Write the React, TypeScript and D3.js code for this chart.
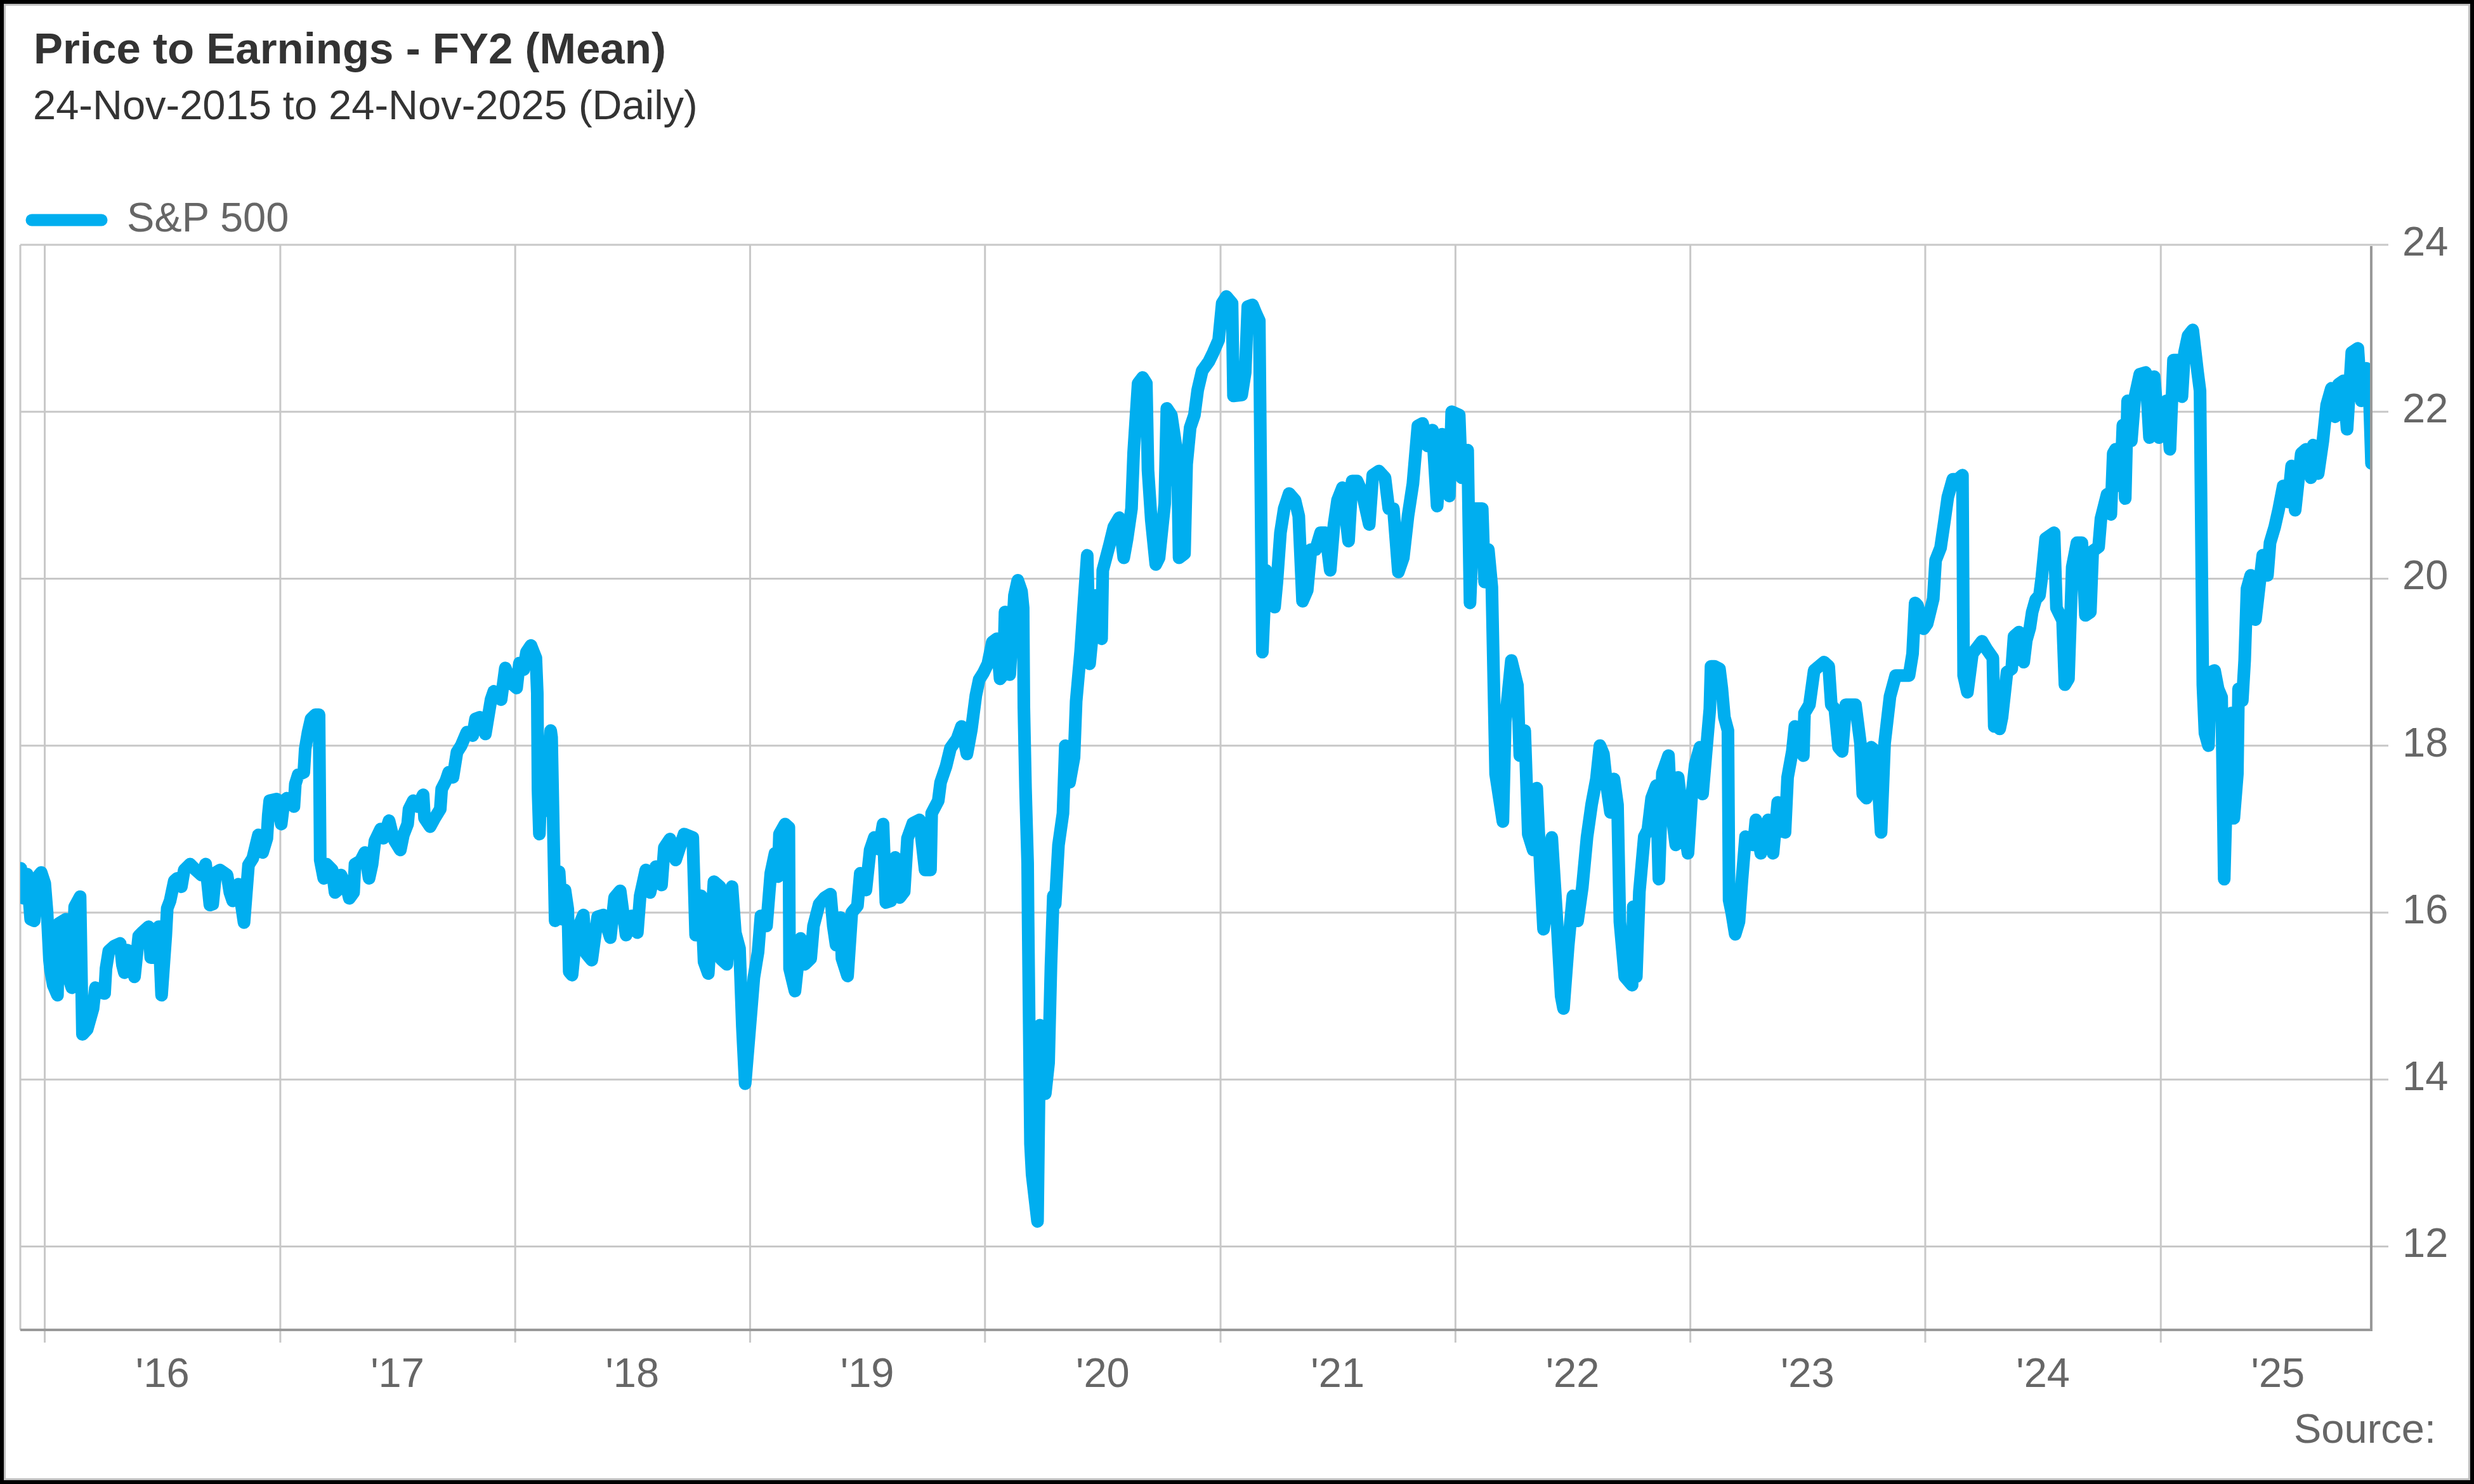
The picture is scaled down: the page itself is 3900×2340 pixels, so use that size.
import React from 'react';
import * as d3 from 'd3';

// ---------- text ----------
const TITLE = 'Price to Earnings - FY2 (Mean)';
const SUBTITLE = '24-Nov-2015 to 24-Nov-2025 (Daily)';
const SERIES_NAME = 'S&P 500';
const SOURCE = 'Source:';

// ---------- axes ----------
const START_DATE = new Date(Date.UTC(2015, 10, 24));
const END_DATE = new Date(Date.UTC(2025, 10, 24));
const Y_MIN = 11;
const Y_MAX = 24;
const Y_TICKS = [12, 14, 16, 18, 20, 22, 24];
const YEARS = [2016, 2017, 2018, 2019, 2020, 2021, 2022, 2023, 2024, 2025];
const YEAR_LABELS = ["'16", "'17", "'18", "'19", "'20", "'21", "'22", "'23", "'24", "'25"];

// ---------- data: [decimal year, P/E] ----------
const pe2016: [number, number][] = [
  [2015.898, 16.53], [2015.91, 16.17], [2015.925, 16.46], [2015.94, 15.92], [2015.955, 15.9],
  [2015.97, 16.43], [2015.985, 16.48], [2016.0, 16.35], [2016.01, 16.0], [2016.02, 15.43],
  [2016.025, 15.3], [2016.036, 15.13], [2016.054, 15.01], [2016.06, 15.87], [2016.09, 15.92],
  [2016.1, 15.23], [2016.115, 15.1], [2016.127, 16.07], [2016.15, 16.19], [2016.16, 14.54],
  [2016.18, 14.6], [2016.205, 14.85], [2016.215, 15.1], [2016.23, 15.05], [2016.254, 15.03],
  [2016.26, 15.33], [2016.272, 15.54], [2016.296, 15.6], [2016.32, 15.63], [2016.33, 15.37],
  [2016.338, 15.28], [2016.35, 15.55], [2016.363, 15.53], [2016.381, 15.23], [2016.399, 15.72],
  [2016.417, 15.77], [2016.441, 15.83], [2016.45, 15.46], [2016.472, 15.46], [2016.484, 15.83],
  [2016.496, 15.01], [2016.514, 15.73], [2016.52, 16.05], [2016.532, 16.14], [2016.55, 16.38],
  [2016.562, 16.41], [2016.58, 16.31], [2016.592, 16.51], [2016.617, 16.58], [2016.641, 16.51],
  [2016.665, 16.45], [2016.683, 16.58], [2016.701, 16.09], [2016.713, 16.1], [2016.726, 16.48],
  [2016.744, 16.51], [2016.774, 16.45], [2016.786, 16.24], [2016.798, 16.14], [2016.822, 16.34],
  [2016.846, 15.88], [2016.865, 16.57], [2016.883, 16.65], [2016.895, 16.79], [2016.907, 16.93],
  [2016.925, 16.72], [2016.943, 16.89], [2016.949, 17.17], [2016.955, 17.34], [2016.985, 17.36],
  [2017.004, 17.06], [2017.016, 17.34], [2017.028, 17.37], [2017.058, 17.27], [2017.064, 17.54],
  [2017.076, 17.65], [2017.1, 17.68], [2017.106, 17.96], [2017.118, 18.16], [2017.131, 18.32],
  [2017.149, 18.37], [2017.165, 18.37], [2017.17, 16.63], [2017.185, 16.41], [2017.197, 16.58],
  [2017.221, 16.51], [2017.233, 16.24], [2017.245, 16.27], [2017.258, 16.45], [2017.282, 16.31],
  [2017.294, 16.17], [2017.312, 16.24], [2017.318, 16.58], [2017.342, 16.62], [2017.36, 16.72],
  [2017.378, 16.41], [2017.391, 16.58], [2017.403, 16.86], [2017.427, 17.0], [2017.439, 16.89],
  [2017.463, 17.1], [2017.475, 16.96], [2017.487, 16.86], [2017.511, 16.75], [2017.524, 16.93],
  [2017.542, 17.06], [2017.548, 17.24], [2017.566, 17.34], [2017.584, 17.27], [2017.608, 17.41],
  [2017.614, 17.13], [2017.638, 17.03], [2017.657, 17.13], [2017.681, 17.24], [2017.687, 17.48],
  [2017.705, 17.58], [2017.717, 17.68], [2017.735, 17.62],
];

const pe2018: [number, number][] = [
  [2017.752, 17.92], [2017.77, 18.0], [2017.794, 18.16], [2017.819, 18.12], [2017.831, 18.32],
  [2017.849, 18.34], [2017.873, 18.14], [2017.897, 18.55], [2017.909, 18.65], [2017.94, 18.55],
  [2017.958, 18.93], [2017.982, 18.75], [2018.006, 18.69], [2018.018, 18.99], [2018.036, 18.91],
  [2018.048, 19.12], [2018.067, 19.2], [2018.088, 19.05], [2018.094, 18.63], [2018.097, 17.47],
  [2018.103, 16.94], [2018.115, 17.92], [2018.127, 17.22], [2018.151, 18.18], [2018.155, 18.1],
  [2018.17, 15.9], [2018.187, 16.49], [2018.2, 15.92], [2018.212, 16.27], [2018.224, 16.04],
  [2018.23, 15.29], [2018.242, 15.25], [2018.26, 15.76], [2018.29, 15.97], [2018.302, 15.51],
  [2018.326, 15.43], [2018.351, 15.95], [2018.375, 15.97], [2018.405, 15.7], [2018.423, 16.18],
  [2018.447, 16.26], [2018.472, 15.73], [2018.496, 15.96], [2018.52, 15.76], [2018.532, 16.2],
  [2018.556, 16.51], [2018.574, 16.24], [2018.599, 16.55], [2018.623, 16.33], [2018.635, 16.78],
  [2018.659, 16.88], [2018.683, 16.63], [2018.719, 16.94], [2018.756, 16.9], [2018.768, 15.73],
  [2018.792, 16.2], [2018.804, 15.41], [2018.822, 15.27], [2018.846, 16.37], [2018.871, 16.31],
  [2018.877, 15.44], [2018.901, 15.38], [2018.923, 16.31], [2018.937, 15.76], [2018.955, 15.57],
  [2018.967, 14.63], [2018.979, 13.95], [2018.998, 14.6], [2019.016, 15.22], [2019.034, 15.53],
  [2019.046, 15.96], [2019.07, 15.84], [2019.088, 16.47], [2019.106, 16.71], [2019.119, 16.43],
  [2019.125, 16.94], [2019.149, 17.06], [2019.165, 17.02], [2019.168, 15.33], [2019.191, 15.06],
  [2019.215, 15.69], [2019.233, 15.38], [2019.258, 15.45], [2019.27, 15.84], [2019.294, 16.1],
  [2019.318, 16.18], [2019.342, 16.22], [2019.354, 15.84], [2019.366, 15.61], [2019.385, 15.94],
  [2019.391, 15.45], [2019.415, 15.24], [2019.433, 16.0], [2019.457, 16.08], [2019.469, 16.47],
  [2019.493, 16.27], [2019.511, 16.75], [2019.529, 16.9], [2019.548, 16.76], [2019.566, 17.06],
  [2019.578, 16.12],
];

const pe2020: [number, number][] = [
  [2019.599, 16.14], [2019.618, 16.66], [2019.637, 16.18], [2019.656, 16.25], [2019.67, 16.89],
  [2019.693, 17.07], [2019.721, 17.11], [2019.745, 16.51], [2019.768, 16.51], [2019.773, 17.19],
  [2019.801, 17.34], [2019.811, 17.56], [2019.834, 17.75], [2019.853, 17.97], [2019.881, 18.08],
  [2019.9, 18.23], [2019.923, 17.9], [2019.942, 18.19], [2019.961, 18.6], [2019.975, 18.79],
  [2019.993, 18.87], [2020.012, 18.98], [2020.031, 19.24], [2020.05, 19.28], [2020.064, 18.8],
  [2020.078, 18.85], [2020.085, 19.6], [2020.095, 19.5], [2020.105, 18.85], [2020.115, 19.3],
  [2020.125, 19.8], [2020.139, 19.98], [2020.155, 19.85], [2020.162, 19.65], [2020.165, 18.46],
  [2020.172, 17.49], [2020.181, 16.59], [2020.183, 15.92], [2020.188, 14.57], [2020.193, 13.23],
  [2020.2, 12.86], [2020.223, 12.3], [2020.233, 14.65], [2020.256, 13.83], [2020.27, 14.2],
  [2020.28, 15.36], [2020.29, 16.2], [2020.298, 16.1], [2020.312, 16.81], [2020.331, 17.19],
  [2020.341, 18.0], [2020.359, 17.56], [2020.378, 17.86], [2020.387, 18.53], [2020.406, 19.13],
  [2020.42, 19.72], [2020.434, 20.28], [2020.444, 18.98], [2020.472, 19.8], [2020.495, 19.28],
  [2020.5, 20.1], [2020.528, 20.4], [2020.547, 20.62], [2020.57, 20.73], [2020.589, 20.25],
  [2020.603, 20.47], [2020.622, 20.84], [2020.631, 21.51], [2020.65, 22.34], [2020.669, 22.41],
  [2020.685, 22.34], [2020.692, 21.3], [2020.706, 20.7], [2020.725, 20.17], [2020.739, 20.25],
  [2020.763, 20.9], [2020.772, 22.04], [2020.791, 21.96], [2020.81, 21.6], [2020.819, 21.1],
  [2020.824, 20.25], [2020.847, 20.3], [2020.856, 21.37], [2020.871, 21.81], [2020.889, 21.96],
  [2020.903, 22.26], [2020.922, 22.49], [2020.95, 22.6], [2020.969, 22.71], [2020.992, 22.86],
  [2021.007, 23.3], [2021.025, 23.38], [2021.049, 23.3],
];

const pe2021: [number, number][] = [
  [2021.055, 22.19], [2021.09, 22.2], [2021.105, 22.47], [2021.116, 23.26], [2021.136, 23.28],
  [2021.152, 23.17], [2021.165, 23.09], [2021.178, 19.12], [2021.193, 20.1], [2021.23, 19.66],
  [2021.24, 19.96], [2021.255, 20.55], [2021.271, 20.84], [2021.292, 21.02], [2021.317, 20.94],
  [2021.333, 20.75], [2021.349, 19.73], [2021.369, 19.86], [2021.385, 20.35], [2021.405, 20.35],
  [2021.426, 20.55], [2021.447, 20.55], [2021.467, 20.1], [2021.483, 20.65], [2021.498, 20.94],
  [2021.519, 21.09], [2021.545, 20.45], [2021.56, 21.17], [2021.581, 21.17], [2021.602, 21.04],
  [2021.633, 20.65], [2021.648, 21.24], [2021.674, 21.29], [2021.7, 21.21], [2021.716, 20.84],
  [2021.736, 20.84], [2021.757, 20.08], [2021.778, 20.25], [2021.798, 20.75], [2021.819, 21.14],
  [2021.84, 21.83], [2021.86, 21.86], [2021.881, 21.59], [2021.902, 21.78], [2021.922, 20.87],
  [2021.943, 21.73], [2021.974, 20.99], [2021.984, 22.0], [2022.016, 21.96], [2022.026, 21.21],
  [2022.052, 21.54], [2022.062, 19.71], [2022.078, 20.84], [2022.114, 20.84], [2022.124, 19.96],
  [2022.14, 20.35], [2022.155, 19.9], [2022.171, 17.66], [2022.202, 17.09], [2022.212, 18.28],
  [2022.238, 19.02], [2022.264, 18.72], [2022.274, 17.88], [2022.295, 18.18], [2022.31, 16.94],
  [2022.331, 16.75], [2022.346, 17.49], [2022.362, 16.5],
];

const pe2022: [number, number][] = [
  [2022.375, 15.8], [2022.39, 16.1], [2022.41, 16.9], [2022.43, 16.0], [2022.45, 15.0],
  [2022.46, 14.85], [2022.48, 15.6], [2022.5, 16.2], [2022.52, 15.9], [2022.54, 16.3],
  [2022.56, 16.9], [2022.58, 17.3], [2022.6, 17.6], [2022.615, 18.0], [2022.63, 17.9],
  [2022.645, 17.5], [2022.66, 17.2], [2022.675, 17.6], [2022.69, 17.29], [2022.7, 15.89],
  [2022.721, 15.23], [2022.752, 15.13], [2022.757, 16.07], [2022.77, 15.23], [2022.783, 16.25],
  [2022.804, 16.91], [2022.819, 16.99], [2022.835, 17.37], [2022.855, 17.52], [2022.866, 16.4],
  [2022.881, 17.67], [2022.907, 17.88], [2022.917, 17.27], [2022.938, 16.81], [2022.948, 17.62],
  [2022.969, 17.11], [2022.99, 16.71],
];

const pe2023: [number, number][] = [
  [2023.005, 17.37], [2023.021, 17.78], [2023.041, 17.98], [2023.052, 17.42], [2023.072, 18.08],
  [2023.083, 18.44], [2023.088, 18.95], [2023.103, 18.95], [2023.124, 18.92], [2023.134, 18.69],
  [2023.145, 18.34], [2023.16, 18.18], [2023.165, 16.15], [2023.176, 16.0], [2023.191, 15.74],
  [2023.207, 15.89], [2023.22, 16.4], [2023.235, 16.91], [2023.269, 16.81], [2023.279, 17.11],
  [2023.3, 16.71], [2023.331, 17.11], [2023.352, 16.71], [2023.372, 17.32], [2023.403, 16.96],
  [2023.414, 17.62], [2023.434, 17.93], [2023.445, 18.23], [2023.481, 17.88], [2023.486, 18.39],
  [2023.507, 18.49], [2023.527, 18.9], [2023.548, 18.95], [2023.569, 19.0], [2023.589, 18.95],
  [2023.6, 18.49], [2023.615, 18.44], [2023.631, 17.98], [2023.646, 17.93], [2023.662, 18.49],
  [2023.703, 18.49], [2023.724, 18.03], [2023.734, 17.42], [2023.75, 17.37], [2023.77, 17.98],
  [2023.791, 17.93], [2023.812, 16.96], [2023.827, 18.03], [2023.85, 18.59], [2023.874, 18.84],
  [2023.905, 18.84], [2023.931, 18.84], [2023.946, 19.1], [2023.957, 19.71], [2023.967, 19.68],
  [2023.993, 19.4],
];

const pe2024: [number, number][] = [
  [2024.008, 19.46], [2024.034, 19.76], [2024.044, 20.22], [2024.065, 20.37], [2024.081, 20.68],
  [2024.096, 20.98], [2024.117, 21.19], [2024.138, 21.19], [2024.158, 21.24], [2024.163, 18.84],
  [2024.179, 18.64], [2024.2, 19.1], [2024.241, 19.25], [2024.262, 19.15], [2024.287, 19.05],
  [2024.293, 18.23], [2024.308, 18.64], [2024.316, 18.2], [2024.326, 18.34], [2024.347, 18.88],
  [2024.367, 18.92], [2024.377, 19.31], [2024.398, 19.36], [2024.418, 19.0], [2024.429, 19.26],
  [2024.444, 19.41], [2024.454, 19.6], [2024.469, 19.75], [2024.485, 19.8], [2024.495, 20.02],
  [2024.511, 20.48], [2024.547, 20.55], [2024.557, 19.65], [2024.583, 19.5], [2024.593, 18.73],
  [2024.608, 18.8], [2024.624, 20.14], [2024.644, 20.43], [2024.665, 20.43], [2024.68, 19.56],
  [2024.701, 19.6], [2024.711, 20.33], [2024.736, 20.38], [2024.746, 20.72], [2024.772, 21.01],
  [2024.788, 20.77], [2024.798, 21.5], [2024.808, 21.55], [2024.829, 21.11], [2024.839, 21.84],
  [2024.849, 20.96], [2024.859, 22.13], [2024.875, 21.65], [2024.89, 22.18], [2024.911, 22.45],
  [2024.936, 22.47], [2024.952, 21.69], [2024.972, 22.42], [2024.993, 21.69],
];

const pe2025: [number, number][] = [
  [2025.024, 22.13], [2025.039, 21.55], [2025.054, 22.62], [2025.08, 22.62], [2025.09, 22.18],
  [2025.101, 22.71], [2025.116, 22.91], [2025.136, 22.98], [2025.157, 22.47], [2025.167, 22.25],
  [2025.179, 18.73], [2025.188, 18.15], [2025.203, 18.0], [2025.213, 18.88], [2025.229, 18.9],
  [2025.244, 18.68], [2025.259, 18.58], [2025.27, 16.4], [2025.285, 18.0], [2025.301, 18.39],
  [2025.311, 17.13], [2025.326, 17.66], [2025.331, 18.68], [2025.347, 18.54], [2025.357, 19.02],
  [2025.367, 19.88], [2025.383, 20.04], [2025.403, 19.51], [2025.418, 19.88], [2025.434, 20.28],
  [2025.454, 20.04], [2025.465, 20.43], [2025.485, 20.62], [2025.501, 20.82], [2025.521, 21.11],
  [2025.542, 20.92], [2025.557, 21.35], [2025.572, 20.82], [2025.598, 21.5], [2025.618, 21.55],
  [2025.639, 21.21], [2025.649, 21.6], [2025.67, 21.26], [2025.69, 21.65], [2025.706, 22.08],
  [2025.726, 22.28], [2025.742, 21.94], [2025.757, 22.33], [2025.777, 22.37], [2025.793, 21.79],
  [2025.813, 22.71], [2025.839, 22.76], [2025.854, 22.13], [2025.875, 22.52], [2025.885, 22.45],
  [2025.897, 21.38],
];

// ---------- helpers ----------
const decToDate = (d: number) => {
  const y = Math.floor(d);
  const s = Date.UTC(y, 0, 1);
  const e = Date.UTC(y + 1, 0, 1);
  return new Date(s + (d - y) * (e - s));
};

const SERIES = [pe2016, pe2018, pe2020, pe2021, pe2022, pe2023, pe2024, pe2025]
  .flat()
  .map(([d, v]) => ({ date: decToDate(d), value: v }));

// ---------- layout ----------
const W = 3900;
const H = 2340;
const PL = 32;
const PR = 3738;
const PT = 386;
const PB = 2097;
const FONT = "'Liberation Sans', Arial, Helvetica, sans-serif";
const LINE_COLOR = '#00AEEF';
const GRID = '#c8c8c8';
const AXIS = '#999999';
const LABEL = '#666666';

export default function App() {
  const x = d3.scaleUtc().domain([START_DATE, END_DATE]).range([PL, PR]);
  const y = d3.scaleLinear().domain([Y_MIN, Y_MAX]).range([PB, PT]);
  const line = d3
    .line<{ date: Date; value: number }>()
    .x((d) => x(d.date))
    .y((d) => y(d.value));

  return (
    <svg
      width={W}
      height={H}
      viewBox={`0 0 ${W} ${H}`}
      style={{ position: 'absolute', left: 0, top: 0, display: 'block', background: '#fff' }}
      fontFamily={FONT}
    >
      <defs>
        <clipPath id="plotClip">
          <rect x={PL} y={PT - 60} width={PR - PL + 1} height={PB - PT + 120} />
        </clipPath>
      </defs>
      <rect x={0} y={0} width={W} height={H} fill="#fff" />

      {/* titles */}
      <text x={53} y={100} fontSize={69} fontWeight="bold" fill="#333">
        {TITLE}
      </text>
      <text x={52} y={188} fontSize={65} fill="#333">
        {SUBTITLE}
      </text>

      {/* legend */}
      <line x1={50} x2={160} y1={347} y2={347} stroke={LINE_COLOR} strokeWidth={19} strokeLinecap="round" />
      <text x={200} y={365} fontSize={65} fill={LABEL}>
        {SERIES_NAME}
      </text>

      {/* horizontal gridlines */}
      {Y_TICKS.map((t) => (
        <line key={`h${t}`} x1={PL} x2={3765} y1={y(t)} y2={y(t)} stroke={GRID} strokeWidth={3} />
      ))}
      {/* vertical gridlines */}
      <line x1={PL} x2={PL} y1={PT} y2={PB} stroke={GRID} strokeWidth={3} />
      {YEARS.map((yr) => {
        const xx = x(new Date(Date.UTC(yr, 0, 1)));
        return <line key={`v${yr}`} x1={xx} x2={xx} y1={PT} y2={2117} stroke={GRID} strokeWidth={3} />;
      })}

      {/* series */}
      <g clipPath="url(#plotClip)">
        <path
          d={line(SERIES) || ''}
          fill="none"
          stroke={LINE_COLOR}
          strokeWidth={20}
          strokeLinejoin="round"
          strokeLinecap="round"
        />
      </g>

      {/* axes */}
      <line x1={PL} x2={PR + 2} y1={PB} y2={PB} stroke={AXIS} strokeWidth={4} />
      <line x1={PR} x2={PR} y1={PT + 2} y2={PB} stroke={AXIS} strokeWidth={4} />

      {/* y labels */}
      {Y_TICKS.map((t) => (
        <text key={`yl${t}`} x={3787} y={y(t) + 17} fontSize={65} fill={LABEL}>
          {t}
        </text>
      ))}
      {/* x labels */}
      {YEARS.map((yr, i) => (
        <text
          key={`xl${yr}`}
          x={x(new Date(Date.UTC(yr, 6, 2)))}
          y={2187}
          fontSize={65}
          fill={LABEL}
          textAnchor="middle"
        >
          {YEAR_LABELS[i]}
        </text>
      ))}

      <text x={3840} y={2275} fontSize={65} fill={LABEL} textAnchor="end">
        {SOURCE}
      </text>

      {/* frame */}
      <rect x={7.5} y={7.5} width={W - 15} height={H - 15} fill="none" stroke="#c0c0c0" strokeWidth={3} />
      <rect x={3} y={3} width={W - 6} height={H - 6} fill="none" stroke="#000" strokeWidth={6} />
    </svg>
  );
}
